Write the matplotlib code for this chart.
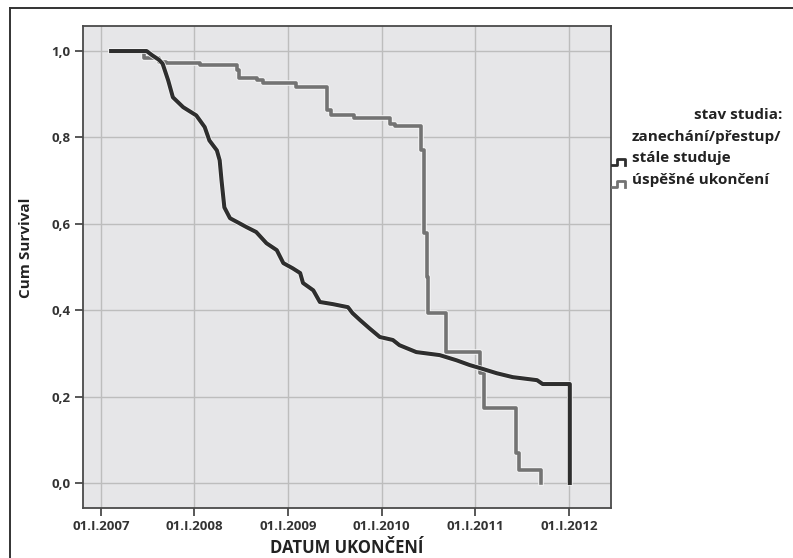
import matplotlib
matplotlib.use("Agg")
import matplotlib.pyplot as plt
import matplotlib.patheffects as pe
from matplotlib.lines import Line2D

plt.rcParams["font.family"] = ["Open Sans", "DejaVu Sans"]

# Kaplan-Meier odhady (čteno z obrázku), čas v desetinných letech
t_drop = [2007.11, 2007.49, 2007.55, 2007.62, 2007.66, 2007.72, 2007.77, 2007.88,
          2008.02, 2008.11, 2008.16, 2008.24, 2008.27, 2008.29, 2008.32, 2008.38,
          2008.56, 2008.66, 2008.77, 2008.88, 2008.95, 2009.05, 2009.13, 2009.16,
          2009.27, 2009.34, 2009.48, 2009.64, 2009.69, 2009.77, 2009.87, 2009.98,
          2010.12, 2010.19, 2010.37, 2010.62, 2010.80, 2010.94, 2011.05, 2011.23,
          2011.40, 2011.66, 2011.72, 2012.01, 2012.01]
s_drop = [1.000, 1.000, 0.990, 0.980, 0.971, 0.932, 0.893, 0.870,
          0.851, 0.824, 0.793, 0.770, 0.747, 0.700, 0.638, 0.613,
          0.592, 0.581, 0.555, 0.539, 0.509, 0.497, 0.486, 0.463,
          0.446, 0.419, 0.414, 0.407, 0.393, 0.377, 0.358, 0.338,
          0.331, 0.319, 0.303, 0.296, 0.284, 0.273, 0.266, 0.254,
          0.245, 0.238, 0.229, 0.229, 0.000]

t_grad = [2007.11, 2007.46, 2007.62, 2007.70, 2008.06, 2008.45, 2008.48, 2008.67,
          2008.73, 2009.08, 2009.42, 2009.46, 2009.70, 2010.09, 2010.14, 2010.42,
          2010.45, 2010.48, 2010.50, 2010.69, 2011.05, 2011.09, 2011.43, 2011.47,
          2011.70]
s_grad = [1.000, 0.983, 0.975, 0.972, 0.968, 0.956, 0.937, 0.932,
          0.925, 0.916, 0.863, 0.851, 0.844, 0.832, 0.826, 0.770,
          0.578, 0.477, 0.393, 0.303, 0.254, 0.173, 0.069, 0.030,
          0.000]

years = [2007, 2008, 2009, 2010, 2011, 2012]
xlabels = ["01.I.%d" % y for y in years]
yticks = [0.0, 0.2, 0.4, 0.6, 0.8, 1.0]
ylabels = ["0,0", "0,2", "0,4", "0,6", "0,8", "1,0"]

DARK = "#2e2e2e"
GRAY = "#737373"
TXT = "#222222"

fig = plt.figure(figsize=(7.93, 5.58), dpi=100)
ax = fig.add_axes([83 / 793, 1 - 508 / 558, 528 / 793, 482 / 558])
ax.set_facecolor("#e6e6e8")

halo = [pe.withStroke(linewidth=4.0, foreground="#f4f4f4")]
ax.plot(t_grad, s_grad, drawstyle="steps-post", color=GRAY, lw=2.6,
        path_effects=halo, solid_joinstyle="round", zorder=3)
ax.plot(t_drop, s_drop, color=DARK, lw=2.9, path_effects=halo,
        solid_joinstyle="round", zorder=4)

ax.set_xlim(2006.81, 2012.45)
ax.set_ylim(-0.058, 1.058)
ax.set_xticks(years)
ax.set_xticklabels(xlabels)
ax.set_yticks(yticks)
ax.set_yticklabels(ylabels)
ax.grid(True, color="#bdbdbd", lw=1.0)
ax.set_axisbelow(True)
for sp in ax.spines.values():
    sp.set_color("#4a4a4a")
    sp.set_linewidth(1.3)
ax.tick_params(direction="out", length=6, width=1.3, color="#4a4a4a",
               labelsize=9.5, labelcolor="#333333", pad=3)
for lab in ax.get_xticklabels() + ax.get_yticklabels():
    lab.set_fontweight("bold")

ax.set_xlabel("DATUM UKONČENÍ", fontsize=12, fontweight="bold", color=TXT)
ax.xaxis.set_label_coords(0.5, -0.064)
ax.set_ylabel("Cum Survival", fontsize=11, fontweight="bold", color=TXT)
ax.yaxis.set_label_coords(-0.095, 0.54)

# legenda vpravo
W, H = 793.0, 558.0
legend_lines = [(115, "stav studia:", "right", 782),
                (137, "zanechání/přestup/", "left", 632),
                (158, "stále studuje", "left", 632),
                (180, "úspěšné ukončení", "left", 632)]
for yy, txt, ha, xx in legend_lines:
    fig.text(xx / W, 1 - yy / H, txt, ha=ha, va="center", fontsize=11,
             fontweight="bold", color=TXT)
for yc, col in [(162, DARK), (184, GRAY)]:
    xs = [612, 617, 617, 625, 625]
    ys = [yc + 3, yc + 3, yc - 3, yc - 3, yc + 3]
    fig.add_artist(Line2D([x / W for x in xs], [1 - y / H for y in ys],
                          color=col, lw=2.0, transform=fig.transFigure))

# rámeček kolem obrázku
fig.add_artist(Line2D([10 / W, 1.0], [1 - 8 / H, 1 - 8 / H], color="#333333",
                      lw=1.4, transform=fig.transFigure))
fig.add_artist(Line2D([10 / W, 10 / W], [1 - 8 / H, 0.0], color="#333333",
                      lw=1.4, transform=fig.transFigure))

fig.savefig("out.png", dpi=100)
